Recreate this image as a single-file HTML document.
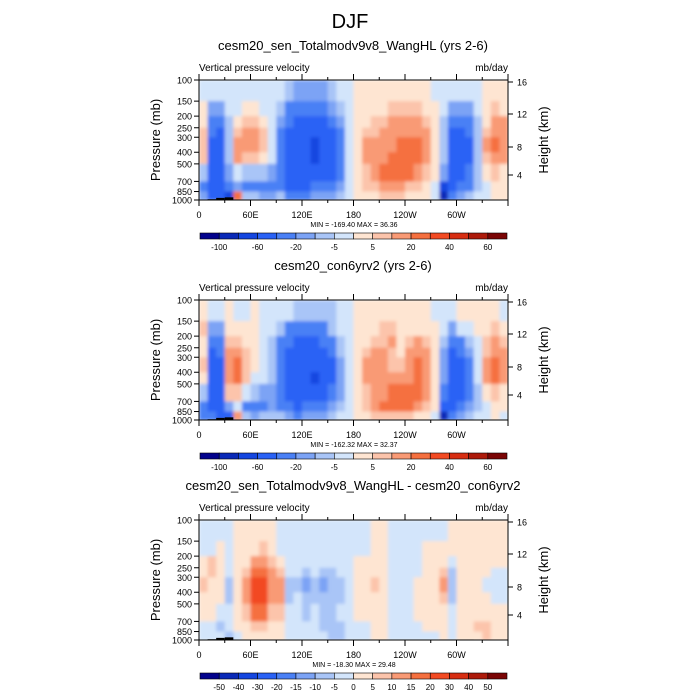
<!DOCTYPE html>
<html><head><meta charset="utf-8"><style>
body{margin:0;background:#fff;}
svg{display:block;font-family:"Liberation Sans",sans-serif;}
</style></head><body>
<svg id="chart" width="700" height="700" viewBox="0 0 700 700">
<defs><filter id="soft" x="0" y="0" width="1" height="1"><feGaussianBlur stdDeviation="1.6"/></filter></defs>
<text x="350" y="28" font-size="20" text-anchor="middle">DJF</text>
</svg>
<script>
const levelsTop=[-100,-80,-60,-40,-20,-10,-5,0,5,10,20,30,40,50,60];
const levelsDiff=[-50,-40,-30,-20,-15,-10,-5,0,5,10,15,20,30,40,50];
const palette=['#02028c','#0a2ab8','#1446e0','#2a62f5','#4a80f5','#7ca3f5','#a9c5f7','#d3e5fb','#fee5d2','#fcc4ab','#f99a75','#f5703f','#f24a22','#d72e12','#ad1a0a','#7a0404'];
const pressureEdges=[100,150,200,250,300,400,500,700,850,1000];
const pressureTicks=[100,150,200,250,300,400,500,700,850,1000];
const heightTicks=[16,12,8,4];
const heightTickOffsets=[2,34,67,95];
const lonTicks=[0,60,120,180,240,300,360];
const lonLabels=['0','60E','120E','180','120W','60W',''];
const lonMinor=[30,90,150,210,270,330];
const surfP=[1000,985,960,950,1000,1000,1000,1000,1000,1000,995,995,995,995,995,995,995,995,1000,1000,1000,1000,1000,1000,1000,1000,1000,1000,990,990,990,990,1000,1000,1000,1000];
const titles=['cesm20_sen_Totalmodv9v8_WangHL (yrs 2-6)','cesm20_con6yrv2 (yrs 2-6)','cesm20_sen_Totalmodv9v8_WangHL - cesm20_con6yrv2'];
const minmax=['MIN = -169.40  MAX =  36.36','MIN = -162.32  MAX =  32.37','MIN = -18.30  MAX =  29.48'];
const panel1=[
[-3,-3,-3,-3,-3,-3,-3,-3,-3,-3,-8,-12,-15,-15,-12,-8,-3,-3,3,3,3,3,3,3,3,3,3,-3,-3,-3,-3,-3,-3,3,3,3],
[3,-15,-15,-3,-3,3,3,-3,-3,-8,-25,-35,-35,-35,-25,-15,-8,-3,3,3,3,3,8,8,8,8,3,3,-3,-15,-15,-15,-3,3,8,3],
[3,-35,-35,-8,3,8,8,3,-3,-15,-35,-45,-50,-50,-45,-35,-15,-3,3,3,8,8,12,12,12,12,8,3,-8,-35,-35,-35,-8,3,12,12],
[8,-35,-45,-8,8,12,12,8,-3,-25,-45,-50,-50,-50,-50,-45,-25,-3,3,8,8,12,15,15,15,15,12,3,-8,-45,-45,-35,-8,8,15,15],
[8,-45,-45,-8,12,12,12,8,-3,-25,-45,-50,-55,-65,-55,-50,-25,-3,3,12,12,15,15,25,25,25,15,3,-8,-45,-50,-45,-8,12,25,15],
[8,-45,-45,-8,12,8,8,3,-3,-25,-45,-50,-55,-70,-55,-50,-25,-3,3,12,15,15,25,25,25,25,15,3,-8,-45,-50,-45,-8,8,15,12],
[-8,-50,-45,-15,-3,-8,-8,-8,-15,-25,-45,-50,-55,-55,-50,-45,-25,-3,3,8,15,25,25,25,25,15,8,3,-15,-50,-45,-35,-8,3,8,3],
[-35,-55,-55,-35,-15,-25,-25,-35,-35,-25,-50,-50,-45,-35,-35,-25,-15,-3,3,8,8,15,15,15,8,8,3,-3,-75,-55,-35,-25,-8,-3,3,3],
[-15,-45,-55,-70,25,-8,-8,-15,-15,-8,-25,-35,-35,-15,-15,-12,-8,-3,3,3,3,8,8,8,3,3,3,-3,-90,-35,-15,-8,-3,-3,3,3]];
const panel2=[
[3,-3,-3,3,-3,-3,3,-3,-3,-3,-3,-8,-8,-8,-8,-8,-3,-3,3,3,3,3,3,3,3,3,3,-3,-3,-3,3,3,3,3,3,-3],
[8,-15,-15,3,3,3,3,-3,-3,-8,-25,-25,-30,-25,-25,-8,-3,-3,3,3,3,8,8,3,3,3,3,3,-3,-15,-3,-3,3,3,8,3],
[3,-35,-25,8,8,3,3,-3,-8,-25,-35,-45,-45,-45,-35,-25,-8,-3,3,3,8,8,12,3,8,12,8,3,-8,-35,-25,-8,-3,8,12,8],
[3,-45,-35,12,15,8,3,-3,-8,-35,-45,-50,-50,-50,-45,-35,-8,-3,3,8,12,12,8,3,12,15,12,3,-15,-45,-35,-15,-3,8,15,12],
[8,-45,-45,12,20,8,3,-3,-8,-35,-45,-55,-50,-55,-50,-45,-15,-3,3,12,12,12,8,8,15,25,15,3,-15,-45,-45,-35,-3,12,25,15],
[3,-45,-45,12,20,8,-3,-3,-8,-35,-50,-55,-55,-65,-50,-45,-15,-3,3,12,15,12,12,12,15,25,15,3,-15,-50,-45,-35,-3,12,25,15],
[-8,-45,-45,8,8,-3,-8,-15,-15,-35,-45,-50,-50,-50,-45,-35,-15,-3,3,8,12,15,20,25,25,25,15,3,-25,-50,-45,-25,-8,3,8,3],
[-25,-45,-50,-15,-3,-25,-35,-25,-15,-25,-35,-45,-35,-25,-25,-15,-8,-3,3,8,15,20,25,25,20,15,8,3,-55,-50,-35,-15,-8,-3,3,3],
[-25,-35,-55,-45,15,-8,-15,-8,-8,-8,-15,-25,-15,-12,-12,-8,-3,-3,3,3,8,8,8,8,8,3,3,-3,-85,-25,-15,-8,-3,-3,3,-3]];
const panel3=[
[-3,-3,-3,-3,3,3,3,3,3,-3,-3,-3,-3,-3,-3,-3,-3,-3,-3,-3,3,3,-3,-3,-3,-3,-3,-3,-3,3,3,3,3,3,3,3],
[-3,-3,3,-3,3,3,3,8,3,-3,-3,-3,-3,-3,-3,-3,-3,-3,-3,-3,3,3,-3,-3,-3,-3,3,3,3,3,3,3,3,3,3,3],
[3,8,3,-3,3,3,12,12,8,3,-3,-3,-3,-3,-3,-3,-3,-3,3,3,3,3,-3,-3,-3,-3,3,3,3,-3,3,3,3,3,3,3],
[3,8,3,-3,3,8,15,15,12,8,-3,-3,-8,-3,-8,-8,-3,-3,3,3,3,3,-3,-3,-3,-3,3,3,8,-8,3,3,3,3,-3,-3],
[8,3,3,-8,3,12,25,25,12,12,-8,-8,-12,-8,-12,-8,-8,-3,3,3,8,3,-3,-3,-3,3,3,3,12,-8,3,3,3,-3,-3,-3],
[3,3,3,-8,3,12,25,25,12,12,-8,-3,-8,-8,-8,-8,-8,-3,3,3,3,3,-3,-3,-3,3,3,3,8,-8,3,3,3,3,-3,-3],
[3,3,-3,-3,3,8,15,15,8,8,-3,-3,-8,-3,-8,-8,-3,-3,3,3,3,3,-3,-3,-3,3,3,3,3,-3,3,3,3,3,3,3],
[-3,-3,-8,-3,3,3,8,8,3,3,-3,-3,-3,-3,-8,-8,-8,-3,-3,-3,3,3,-3,-3,-3,-3,3,3,3,-3,3,3,8,8,3,3],
[-3,-3,-3,-8,-3,3,3,3,3,3,-3,-3,-3,-3,-3,-8,-8,-3,-3,-3,3,3,-3,-3,-3,-3,-3,-3,3,-3,3,3,3,8,3,3]];
const panels=[panel1,panel2,panel3];
const panelLevels=[levelsTop,levelsTop,levelsDiff];
const cbLabelsTop=['-100','','-60','','-20','','-5','','5','','20','','40','','60'];
const cbLabelsDiff=['-50','-40','-30','-20','-15','-10','-5','0','5','10','15','20','30','40','50'];
const cbLabels=[cbLabelsTop,cbLabelsTop,cbLabelsDiff];

const svg=document.getElementById('chart');
const NS='http://www.w3.org/2000/svg';
const X0=199,X1=508,PH=120;
function mk(tag,attrs,parent){const e=document.createElementNS(NS,tag);for(const k in attrs)e.setAttribute(k,attrs[k]);(parent||svg).appendChild(e);return e;}
function xs(lon){return X0+(X1-X0)*lon/360;}
function ys(p,top){return top+PH*Math.log10(p/100);}
function colorIdx(v,lv){let i=0;while(i<lv.length&&lv[i]<=v)i++;return i;}

panels.forEach((grid,pi)=>{
  const top=80+220*pi;
  const g=mk('g',{});
  
  
  const t=mk('text',{x:353,y:top-30,'font-size':13,'text-anchor':'middle'},g);t.textContent=titles[pi];
  
  
  const l=mk('text',{x:199,y:top-9,'font-size':10},g);l.textContent='Vertical pressure velocity';
  
  
  const r=mk('text',{x:508,y:top-9,'font-size':10,'text-anchor':'end'},g);r.textContent='mb/day';
  
  
  const cells=mk('g',{filter:'url(#soft)'},g);
  
  
  const ncol=grid[0].length;
  grid.forEach((row,ri)=>{
    const y0=ys(pressureEdges[ri],top),y1=ys(pressureEdges[ri+1],top);
    row.forEach((v,ci)=>{
      const xa=xs(ci*360/ncol),xb=xs((ci+1)*360/ncol);
      const c=mk('rect',{x:xa,y:y0,width:xb-xa+0.5,height:y1-y0+0.5,fill:palette[colorIdx(v,panelLevels[pi])]},cells);
      
      
    });
  });
  surfP.forEach((p,ci)=>{
    if(p>=1000)return;
    const xa=xs(ci*10),xb=xs(ci*10+10);
    const y0=ys(p,top);
    const tr=mk('rect',{x:xa,y:y0,width:xb-xa,height:top+PH-y0,fill:'#000'},g);
    
    
  });
  const fr=mk('rect',{x:X0,y:top,width:X1-X0,height:PH,fill:'none',stroke:'#000','stroke-width':1},g);
  
  
  pressureTicks.forEach(p=>{
    const y=ys(p,top);
    mk('line',{x1:X0-5,x2:X0,y1:y,y2:y,stroke:'#000'},g);
    const tx=mk('text',{x:X0-7,y:y+3.5,'font-size':9,'text-anchor':'end'},g);tx.textContent=p;
    
    
  });
  heightTicks.forEach((h,hi)=>{
    const y=top+heightTickOffsets[hi];
    mk('line',{x1:X1,x2:X1+5,y1:y,y2:y,stroke:'#000'},g);
    const tx=mk('text',{x:X1+9,y:y+3.5,'font-size':9},g);tx.textContent=h;
    
    
  });
  lonTicks.forEach((lon,li)=>{
    const x=xs(lon);
    mk('line',{x1:x,x2:x,y1:top+PH,y2:top+PH+6,stroke:'#000'},g);
    mk('line',{x1:x,x2:x,y1:top,y2:top-6,stroke:'#000'},g);
    const tx=mk('text',{x:x,y:top+PH+18,'font-size':9,'text-anchor':'middle'},g);tx.textContent=lonLabels[li];
    
    
  });
  lonMinor.forEach(lon=>{
    const x=xs(lon);
    mk('line',{x1:x,x2:x,y1:top+PH,y2:top+PH+3,stroke:'#000'},g);
    mk('line',{x1:x,x2:x,y1:top,y2:top-3,stroke:'#000'},g);
  });
  const yt=mk('text',{x:0,y:0,'font-size':13,'text-anchor':'middle',transform:`translate(160,${top+60}) rotate(-90)`},g);yt.textContent='Pressure (mb)';
  
  
  const yt2=mk('text',{x:0,y:0,'font-size':13,'text-anchor':'middle',transform:`translate(548,${top+60}) rotate(-90)`},g);yt2.textContent='Height (km)';
  
  
  const mm=mk('text',{x:354,y:top+PH+27,'font-size':7,'text-anchor':'middle'},g);mm.textContent=minmax[pi];
  
  
  const cb=mk('g',{},g);
  
  
  const cy=top+153,cw=(507-200)/palette.length;
  palette.forEach((c,i)=>{
    const b=mk('rect',{x:200+i*cw,y:cy,width:cw,height:6,fill:c,stroke:'#000','stroke-width':0.6},cb);
    
    
  });
  cbLabels[pi].forEach((s,i)=>{
    if(!s)return;
    const tx=mk('text',{x:200+(i+1)*cw,y:cy+17,'font-size':8,'text-anchor':'middle'},cb);tx.textContent=s;
    
    
  });
});
</script>
</body></html>
